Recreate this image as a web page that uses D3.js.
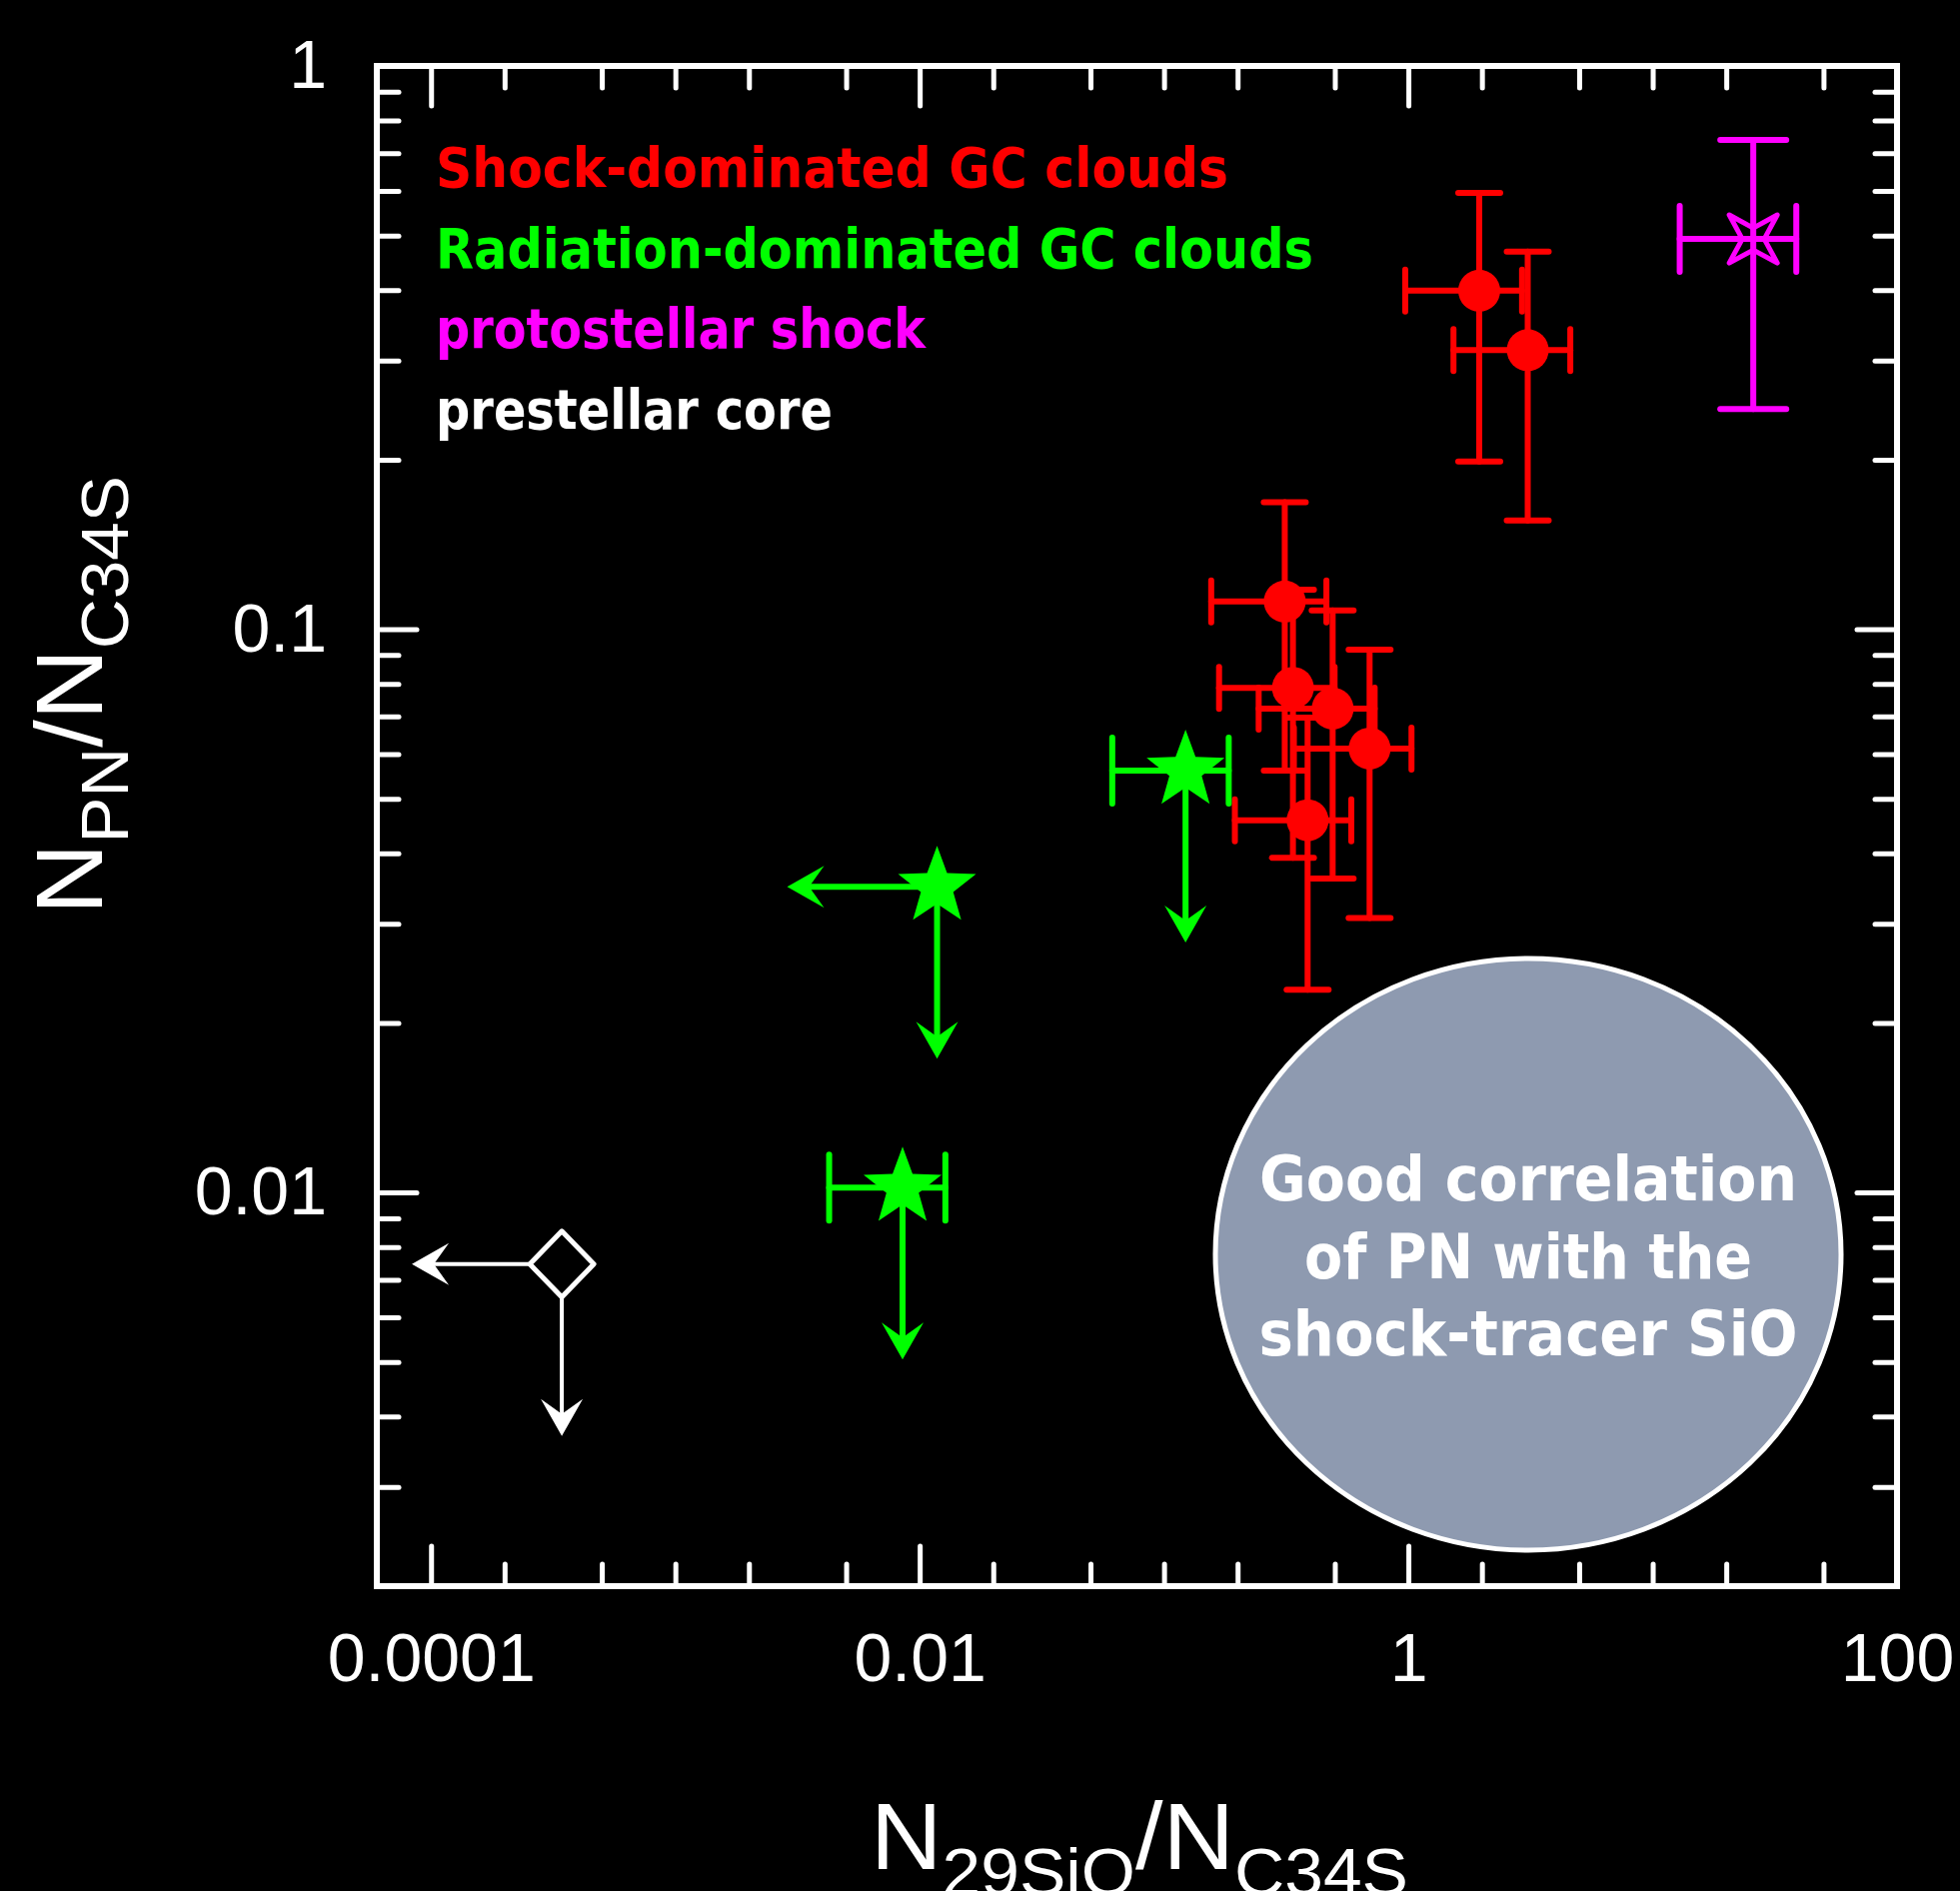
<!DOCTYPE html>
<html>
<head>
<meta charset="utf-8">
<script src="https://cdn.jsdelivr.net/npm/d3@7"></script>
<style>
  body { margin: 0; background: #000; }
</style>
</head>
<body>
<div id="chart"></div>
<script>
//----------------------------
// Data
//----------------------------

// shock-dominated GC clouds (red)
var shockX   = [1.95, 3.08, 0.312, 0.337, 0.49, 0.694, 0.387];
var shockY   = [0.399, 0.313, 0.112, 0.0787, 0.0723, 0.0614, 0.0458];
var shockXlo = [0.971, 1.53, 0.156, 0.168, 0.244, 0.34, 0.195];
var shockXhi = [2.92, 4.60, 0.462, 0.499, 0.728, 1.03, 0.584];
var shockYlo = [0.1985, 0.156, 0.0561, 0.0393, 0.0361, 0.0307, 0.0229];
var shockYhi = [0.595, 0.468, 0.168, 0.1175, 0.108, 0.092, 0.0697];

// radiation-dominated GC clouds (green), upper limits
var radX      = [0.1225, 0.01178, 0.00851];
var radY      = [0.0561, 0.0349, 0.0102];
var radXlo    = [0.0614, null, 0.00426];
var radXhi    = [0.184, null, 0.01274];
var radXlimit = [false, true, false];
var radYlimit = [true, true, true];

// protostellar shock (magenta)
var protoX = [25.8];
var protoY = [0.493];
var protoXlo = [12.9];
var protoXhi = [38.7];
var protoYlo = [0.246];
var protoYhi = [0.739];

// prestellar core (white), upper limits in both
var preX = [3.43e-4];
var preY = [0.00746];

var xMajor = [1e-4, 1e-2, 1, 100];
var xTickLabels = ["0.0001", "0.01", "1", "100"];
var xMinor = [2e-4, 5e-4, 1e-3, 2e-3, 5e-3, 2e-2, 5e-2, 0.1, 0.2, 0.5, 2, 5, 10, 20, 50];
var yMajor = [0.01, 0.1, 1];
var yTickLabels = ["0.01", "0.1", "1"];
var yMinor = [0.003, 0.004, 0.005, 0.006, 0.007, 0.008, 0.009,
              0.02, 0.03, 0.04, 0.05, 0.06, 0.07, 0.08, 0.09,
              0.2, 0.3, 0.4, 0.5, 0.6, 0.7, 0.8, 0.9];

var legendLabels = ["Shock-dominated GC clouds", "Radiation-dominated GC clouds",
                    "protostellar shock", "prestellar core"];
var legendColors = ["#ff0000", "#00ff00", "#ff00ff", "#ffffff"];
var noteLines = ["Good correlation", "of PN with the", "shock-tracer SiO"];

//----------------------------
// Frame and scales
//----------------------------

var W = 1961, H = 1892;
var pLeft = 377, pRight = 1898, pTop = 66, pBottom = 1587;

var svg = d3.select("#chart")
    .append("svg")
    .attr("width", W)
    .attr("height", H)
    .style("background", "#000");

var x = d3.scaleLog().domain([6e-5, 100]).range([pLeft, pRight]);
var y = d3.scaleLog().domain([0.002, 1]).range([pBottom, pTop]);

var tickFont = "'Liberation Sans', Arial, sans-serif";

function styleAxis(g) {
    g.select(".domain").remove();
    g.selectAll(".tick line")
        .attr("stroke", "#fff")
        .attr("stroke-width", 5)
        .attr("stroke-linecap", "round");
    g.selectAll(".tick text")
        .attr("fill", "#fff")
        .attr("font-family", tickFont)
        .attr("font-size", 68);
}

// bottom
svg.append("g").attr("transform", "translate(0," + pBottom + ")")
    .call(d3.axisBottom(x).tickValues(xMajor).tickSize(-40).tickPadding(47)
        .tickFormat((d, i) => xTickLabels[i]))
    .call(styleAxis);
svg.append("g").attr("transform", "translate(0," + pBottom + ")")
    .call(d3.axisBottom(x).tickValues(xMinor).tickSize(-22).tickFormat(""))
    .call(styleAxis);
// top
svg.append("g").attr("transform", "translate(0," + pTop + ")")
    .call(d3.axisTop(x).tickValues(xMajor).tickSize(-40).tickFormat(""))
    .call(styleAxis);
svg.append("g").attr("transform", "translate(0," + pTop + ")")
    .call(d3.axisTop(x).tickValues(xMinor).tickSize(-22).tickFormat(""))
    .call(styleAxis);
// left
svg.append("g").attr("transform", "translate(" + pLeft + ",0)")
    .call(d3.axisLeft(y).tickValues(yMajor).tickSize(-40).tickPadding(50)
        .tickFormat((d, i) => yTickLabels[i]))
    .call(styleAxis);
svg.append("g").attr("transform", "translate(" + pLeft + ",0)")
    .call(d3.axisLeft(y).tickValues(yMinor).tickSize(-22).tickFormat(""))
    .call(styleAxis);
// right
svg.append("g").attr("transform", "translate(" + pRight + ",0)")
    .call(d3.axisRight(y).tickValues(yMajor).tickSize(-40).tickFormat(""))
    .call(styleAxis);
svg.append("g").attr("transform", "translate(" + pRight + ",0)")
    .call(d3.axisRight(y).tickValues(yMinor).tickSize(-22).tickFormat(""))
    .call(styleAxis);

svg.append("rect")
    .attr("x", pLeft).attr("y", pTop)
    .attr("width", pRight - pLeft).attr("height", pBottom - pTop)
    .attr("fill", "none")
    .attr("stroke", "#fff")
    .attr("stroke-width", 6);

//----------------------------
// Axis titles
//----------------------------

function title(sel, main1, sub1, main2, sub2) {
    sel.append("tspan").text(main1);
    sel.append("tspan").attr("dy", 26).attr("font-size", 66).text(sub1);
    sel.append("tspan").attr("dy", -26).text(main2);
    sel.append("tspan").attr("dy", 26).attr("font-size", 66).text(sub2);
}

var xTitle = svg.append("text")
    .attr("x", 871).attr("y", 1870)
    .attr("fill", "#fff")
    .attr("font-family", tickFont)
    .attr("font-size", 94)
    .attr("textLength", 538)
    .attr("lengthAdjust", "spacingAndGlyphs");
title(xTitle, "N", "29SiO", "/N", "C34S");

var yTitle = svg.append("text")
    .attr("transform", "translate(102,915) rotate(-90)")
    .attr("fill", "#fff")
    .attr("font-family", tickFont)
    .attr("font-size", 94)
    .attr("textLength", 439)
    .attr("lengthAdjust", "spacingAndGlyphs");
title(yTitle, "N", "PN", "/N", "C34S");

//----------------------------
// Legend
//----------------------------

var legendLen = [793, 878, 490, 397];
svg.append("g").selectAll("text")
    .data(legendLabels)
    .enter()
    .append("text")
    .attr("x", 436)
    .attr("y", (d, i) => 187 + i * 80.5)
    .attr("fill", (d, i) => legendColors[i])
    .attr("font-family", "'DejaVu Sans', sans-serif")
    .attr("font-weight", "bold")
    .attr("font-size", 55)
    .attr("textLength", (d, i) => legendLen[i])
    .attr("lengthAdjust", "spacingAndGlyphs")
    .text(d => d);

//----------------------------
// Note bubble
//----------------------------

svg.append("ellipse")
    .attr("cx", 1529).attr("cy", 1255)
    .attr("rx", 313).attr("ry", 296)
    .attr("fill", "#8e9ab0")
    .attr("stroke", "#fff")
    .attr("stroke-width", 5);

var noteLen = [538, 448, 539];
svg.append("g").selectAll("text")
    .data(noteLines)
    .enter()
    .append("text")
    .attr("x", 1529)
    .attr("y", (d, i) => 1201 + i * 77.5)
    .attr("text-anchor", "middle")
    .attr("fill", "#fff")
    .attr("font-family", "'DejaVu Sans', sans-serif")
    .attr("font-weight", "bold")
    .attr("font-size", 62)
    .attr("textLength", (d, i) => noteLen[i])
    .attr("lengthAdjust", "spacingAndGlyphs")
    .text(d => d);

//----------------------------
// Marker helpers
//----------------------------

function starPath(R, r, n, rot) {
    var pts = [];
    for (var k = 0; k < 2 * n; k++) {
        var a = rot + k * Math.PI / n;
        var rr = k % 2 === 0 ? R : r;
        pts.push([rr * Math.sin(a), -rr * Math.cos(a)]);
    }
    return "M" + pts.map(p => p[0].toFixed(2) + "," + p[1].toFixed(2)).join("L") + "Z";
}

function errorBars(g, px, py, color, cap, width) {
    var lines = [];
    px.forEach(function (p) {
        if (p.lo != null) {
            lines.push([x(p.lo), y(p.y), x(p.hi), y(p.y)]);
            lines.push([x(p.lo), y(p.y) - cap, x(p.lo), y(p.y) + cap]);
            lines.push([x(p.hi), y(p.y) - cap, x(p.hi), y(p.y) + cap]);
        }
    });
    py.forEach(function (p) {
        lines.push([x(p.x), y(p.lo), x(p.x), y(p.hi)]);
        lines.push([x(p.x) - cap, y(p.lo), x(p.x) + cap, y(p.lo)]);
        lines.push([x(p.x) - cap, y(p.hi), x(p.x) + cap, y(p.hi)]);
    });
    g.selectAll(null)
        .data(lines)
        .enter()
        .append("line")
        .attr("x1", d => d[0]).attr("y1", d => d[1])
        .attr("x2", d => d[2]).attr("y2", d => d[3])
        .attr("stroke", color)
        .attr("stroke-width", width)
        .attr("stroke-linecap", "round");
}

// limit arrows: line from the point plus a swept-back head
var downLen = 172, leftLen = 150;
function arrows(g, pts, color, width) {
    pts.forEach(function (p) {
        var cx = x(p.x), cy = y(p.y);
        if (p.down) {
            var ty = cy + downLen;
            g.append("line")
                .attr("x1", cx).attr("y1", cy + (p.gap || 0))
                .attr("x2", cx).attr("y2", ty - 20)
                .attr("stroke", color).attr("stroke-width", width);
            g.append("path")
                .attr("d", "M" + cx + "," + ty + "l-21,-37l21,15l21,-15z")
                .attr("fill", color);
        }
        if (p.left) {
            var tx = cx - leftLen;
            g.append("line")
                .attr("x1", cx - (p.gap || 0)).attr("y1", cy)
                .attr("x2", tx + 20).attr("y2", cy)
                .attr("stroke", color).attr("stroke-width", width);
            g.append("path")
                .attr("d", "M" + tx + "," + cy + "l37,-21l-15,21l15,21z")
                .attr("fill", color);
        }
    });
}

//----------------------------
// Shock-dominated (red)
//----------------------------

var shock = shockX.map((v, i) => ({
    x: v, y: shockY[i], lo: shockXlo[i], hi: shockXhi[i],
    ylo: shockYlo[i], yhi: shockYhi[i]
}));
var gRed = svg.append("g");
errorBars(gRed, shock, shock.map(d => ({ x: d.x, lo: d.ylo, hi: d.yhi })), "#ff0000", 21, 6);
gRed.selectAll("circle")
    .data(shock)
    .enter()
    .append("circle")
    .attr("cx", d => x(d.x))
    .attr("cy", d => y(d.y))
    .attr("r", 21)
    .attr("fill", "#ff0000");

//----------------------------
// Radiation-dominated (green)
//----------------------------

var rad = radX.map((v, i) => ({
    x: v, y: radY[i], lo: radXlo[i], hi: radXhi[i],
    left: radXlimit[i], down: radYlimit[i]
}));
var gGreen = svg.append("g");
errorBars(gGreen, rad, [], "#00ff00", 33, 6);
arrows(gGreen, rad, "#00ff00", 6);
gGreen.selectAll("path.star")
    .data(rad)
    .enter()
    .append("path")
    .attr("class", "star")
    .attr("transform", d => "translate(" + x(d.x) + "," + y(d.y) + ")")
    .attr("d", starPath(41, 17, 5, 0))
    .attr("fill", "#00ff00");

//----------------------------
// Protostellar shock (magenta)
//----------------------------

var proto = protoX.map((v, i) => ({
    x: v, y: protoY[i], lo: protoXlo[i], hi: protoXhi[i],
    ylo: protoYlo[i], yhi: protoYhi[i]
}));
var gMag = svg.append("g");
errorBars(gMag, proto, proto.map(d => ({ x: d.x, lo: d.ylo, hi: d.yhi })), "#ff00ff", 33, 6);
gMag.selectAll("path.star4")
    .data(proto)
    .enter()
    .append("path")
    .attr("class", "star4")
    .attr("transform", d => "translate(" + x(d.x) + "," + y(d.y) + ")")
    .attr("d", starPath(34, 11, 4, Math.PI / 4))
    .attr("fill", "none")
    .attr("stroke", "#ff00ff")
    .attr("stroke-width", 5)
    .attr("stroke-linejoin", "round");

//----------------------------
// Prestellar core (white)
//----------------------------

var pre = preX.map((v, i) => ({ x: v, y: preY[i], left: true, down: true, gap: 33 }));
var gWhite = svg.append("g");
arrows(gWhite, pre, "#fff", 4);
gWhite.selectAll("path.diamond")
    .data(pre)
    .enter()
    .append("path")
    .attr("class", "diamond")
    .attr("transform", d => "translate(" + x(d.x) + "," + y(d.y) + ")")
    .attr("d", "M0,-33L32,0L0,33L-32,0Z")
    .attr("fill", "#000")
    .attr("stroke", "#fff")
    .attr("stroke-width", 5)
    .attr("stroke-linejoin", "round");
</script>
</body>
</html>
